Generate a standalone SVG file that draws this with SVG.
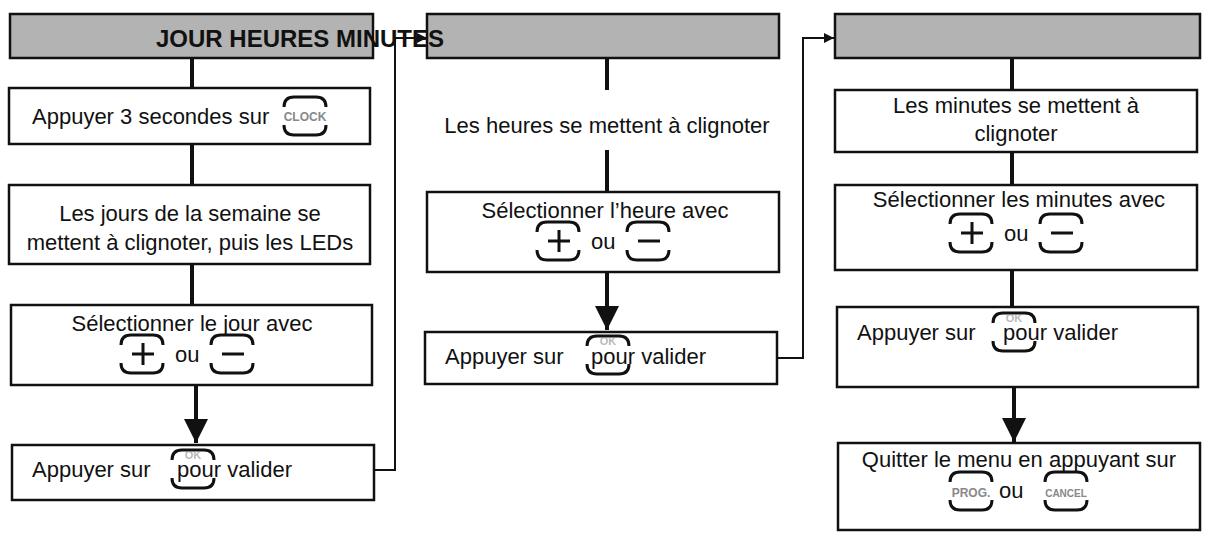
<svg xmlns="http://www.w3.org/2000/svg" width="1207" height="535" viewBox="0 0 1207 535">
<style>
.b{fill:#fff;stroke:#111;stroke-width:2.5}
.h{fill:#b3b3b3;stroke:#111;stroke-width:2.5}
.t{font-family:"Liberation Sans",Arial,sans-serif;font-size:22px;fill:#111;text-anchor:middle}
.l{font-family:"Liberation Sans",Arial,sans-serif;font-size:22px;fill:#111}
.c{fill:none;stroke:#111;stroke-width:4}
.th{fill:none;stroke:#111;stroke-width:2}
.k{fill:none;stroke:#111;stroke-width:3}
.kt{font-family:"Liberation Sans",Arial,sans-serif;font-weight:bold;fill:#888;text-anchor:middle}
</style>
<defs>
<marker id="ad" viewBox="0 0 10 10" refX="10" refY="5" markerWidth="6" markerHeight="7" orient="auto" markerUnits="strokeWidth"><path d="M0,0 L10,5 L0,10 z" fill="#111"/></marker>
<marker id="ar" viewBox="0 0 10 10" refX="10" refY="5" markerWidth="5" markerHeight="5" orient="auto" markerUnits="strokeWidth"><path d="M0,0 L10,5 L0,10 z" fill="#111"/></marker>
<g id="btn"><path class="k" d="M0,12 q0,-10 10,-10 h22 q10,0 10,10 M0,30 q0,10 10,10 h22 q10,0 10,-10"/></g>
</defs>
<g id="connectors">
<line class="c" x1="192" y1="58" x2="192" y2="88"/>
<line class="c" x1="192" y1="144" x2="192" y2="185"/>
<line class="c" x1="192" y1="264" x2="192" y2="305"/>
<line class="c" x1="196" y1="385" x2="196" y2="443" marker-end="url(#ad)"/>
<polyline class="th" points="374,470 395,470 395,38 427,38" marker-end="url(#ar)"/>
<line class="c" x1="607" y1="58" x2="607" y2="90"/>
<line class="c" x1="607" y1="150" x2="607" y2="192"/>
<line class="c" x1="607" y1="272" x2="607" y2="330" marker-end="url(#ad)"/>
<polyline class="th" points="777,358 803,358 803,38 834,38" marker-end="url(#ar)"/>
<line class="c" x1="1012" y1="58" x2="1012" y2="90"/>
<line class="c" x1="1012" y1="152" x2="1012" y2="185"/>
<line class="c" x1="1012" y1="270" x2="1012" y2="307"/>
<line class="c" x1="1014" y1="387" x2="1014" y2="442" marker-end="url(#ad)"/>
</g>
<g id="h1"><rect class="h" x="10" y="14" width="363" height="44"/></g>
<g id="h2"><rect class="h" x="427" y="14" width="352" height="44"/></g>
<g id="h3"><rect class="h" x="835" y="14" width="365" height="44"/></g>
<text x="300" y="47" style="font-family:'Liberation Sans',Arial,sans-serif;font-size:24px;font-weight:bold;text-anchor:middle;fill:#111">JOUR HEURES MINUTES</text>
<g id="n1"><rect class="b" x="9" y="88" width="361" height="56"/>
<text class="l" x="32" y="124">Appuyer 3 secondes sur</text>
<use href="#btn" x="284" y="95"/><text class="kt" x="305" y="121" font-size="12">CLOCK</text></g>
<g id="n2"><rect class="b" x="9" y="185" width="361" height="79"/>
<text class="t" x="190" y="221">Les jours de la semaine se</text>
<text class="t" x="190" y="250">mettent à clignoter, puis les LEDs</text></g>
<g id="n3"><rect class="b" x="11" y="305" width="361" height="80"/>
<text class="t" x="192" y="331">Sélectionner le jour avec</text>
<use href="#btn" x="121" y="333"/><path class="k" d="M132,354 h22 M143,343 v22"/>
<text class="l" x="175" y="362">ou</text>
<use href="#btn" x="211" y="333"/><path class="k" d="M222,354 h22"/></g>
<g id="n4"><rect class="b" x="12" y="445" width="362" height="55"/>
<use href="#btn" x="172" y="448"/><text class="kt" x="193" y="459" font-size="11" fill-opacity="0.6">OK</text>
<text class="l" x="32" y="477">Appuyer sur</text><text class="l" x="177" y="477">pour valider</text></g>
<g id="n5"><text class="t" x="607" y="133">Les heures se mettent à clignoter</text></g>
<g id="n6"><rect class="b" x="427" y="192" width="352" height="80"/>
<text class="t" x="605" y="218">Sélectionner l’heure avec</text>
<use href="#btn" x="537" y="220"/><path class="k" d="M548,241 h22 M559,230 v22"/>
<text class="l" x="591" y="249">ou</text>
<use href="#btn" x="627" y="220"/><path class="k" d="M638,241 h22"/></g>
<g id="n7"><rect class="b" x="425" y="332" width="352" height="52"/>
<use href="#btn" x="587" y="334"/><text class="kt" x="608" y="345" font-size="11" fill-opacity="0.6">OK</text>
<text class="l" x="445" y="364">Appuyer sur</text><text class="l" x="591" y="364">pour valider</text></g>
<g id="n8"><rect class="b" x="835" y="90" width="362" height="62"/>
<text class="t" x="1016" y="113">Les minutes se mettent à</text>
<text class="t" x="1016" y="141">clignoter</text></g>
<g id="n9"><rect class="b" x="835" y="185" width="362" height="85"/>
<text class="t" x="1019" y="207">Sélectionner les minutes avec</text>
<use href="#btn" x="950" y="212"/><path class="k" d="M961,233 h22 M972,222 v22"/>
<text class="l" x="1004" y="241">ou</text>
<use href="#btn" x="1040" y="212"/><path class="k" d="M1051,233 h22"/></g>
<g id="n10"><rect class="b" x="837" y="307" width="361" height="80"/>
<use href="#btn" x="993" y="311"/><text class="kt" x="1014" y="322" font-size="11" fill-opacity="0.6">OK</text>
<text class="l" x="857" y="340">Appuyer sur</text><text class="l" x="1003" y="340">pour valider</text></g>
<g id="n11"><rect class="b" x="838" y="443" width="362" height="87"/>
<text class="t" x="1019" y="467">Quitter le menu en appuyant sur</text>
<use href="#btn" x="950" y="470"/><text class="kt" x="971" y="497" font-size="12">PROG.</text>
<text class="l" x="999" y="498">ou</text>
<use href="#btn" x="1045" y="470"/><text class="kt" x="1066" y="497" font-size="10">CANCEL</text></g>
</svg>
